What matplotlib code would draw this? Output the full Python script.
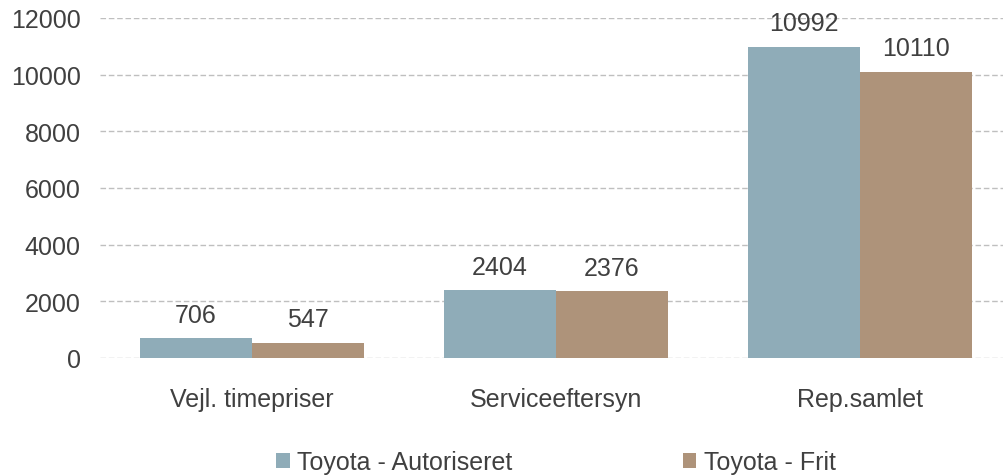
import matplotlib.pyplot as plt
import numpy as np

categories = ["Vejl. timepriser", "Serviceeftersyn", "Rep.samlet"]
series_names = ["Toyota - Autoriseret", "Toyota - Frit"]
autoriseret = [706, 2404, 10992]
frit = [547, 2376, 10110]
y_ticks = [0, 2000, 4000, 6000, 8000, 10000, 12000]

COLORS = ["#8FACB8", "#AE937A"]
TXT = "#404040"

plt.rcParams["font.family"] = ["Liberation Sans", "DejaVu Sans"]

fig = plt.figure(figsize=(10.04, 4.77), dpi=100)
ax = fig.add_axes([100 / 1004, 118 / 477, 904 / 1004, 340 / 477])

x = np.arange(len(categories))
w = 0.368
for i, (vals, name) in enumerate(zip([autoriseret, frit], series_names)):
    xs = x + (i - 0.5) * w
    ax.bar(xs, vals, width=w, color=COLORS[i], label=name, zorder=2)
    for xi, v in zip(xs, vals):
        ax.annotate(str(v), (xi, v), xytext=(0, 8), textcoords="offset points",
                    ha="center", va="bottom", fontsize=18, color=TXT)

ax.set_ylim(0, 12000)
ax.set_xlim(-0.5, 2.5 - 8 / 304)
ax.set_yticks(y_ticks)
ax.set_xticks(x)
ax.set_xticklabels(categories)
ax.yaxis.grid(True, linestyle=(0, (4, 2)), color="#BFBFBF", linewidth=1.0, zorder=0)
ax.set_axisbelow(True)
for s in ax.spines.values():
    s.set_visible(False)
ax.tick_params(axis="both", length=0, labelsize=18, labelcolor=TXT)
ax.tick_params(axis="y", pad=14)
ax.tick_params(axis="x", pad=21)

fig.legend(loc="center", bbox_to_anchor=(556 / 1004, 1 - 463 / 477), ncol=2,
           frameon=False, fontsize=18, handlelength=0.55, handleheight=0.55,
           handletextpad=0.3, columnspacing=6.8, labelcolor=TXT)

fig.savefig("out.png", dpi=100)
